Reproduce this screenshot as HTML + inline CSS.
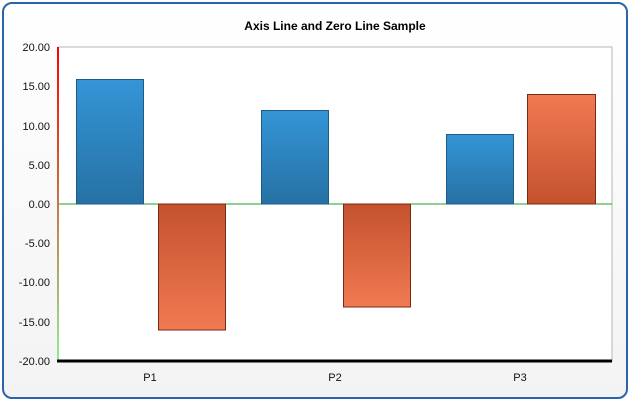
<!DOCTYPE html>
<html><head><style>body{margin:0;background:#fff}svg{display:block}</style></head><body>
<svg width="630" height="401" xmlns="http://www.w3.org/2000/svg" font-family="Liberation Sans, sans-serif">
<defs>
<linearGradient id="bg" x1="0" y1="0" x2="0" y2="1"><stop offset="0" stop-color="#ffffff"/><stop offset="1" stop-color="#f3f3f3"/></linearGradient>
<linearGradient id="blue" x1="0" y1="0" x2="0" y2="1"><stop offset="0" stop-color="#3495d6"/><stop offset="1" stop-color="#2671a4"/></linearGradient>
<linearGradient id="orU" x1="0" y1="0" x2="0" y2="1"><stop offset="0" stop-color="#f07a52"/><stop offset="1" stop-color="#c4522e"/></linearGradient>
<linearGradient id="orD" x1="0" y1="0" x2="0" y2="1"><stop offset="0" stop-color="#c4522e"/><stop offset="1" stop-color="#f07a52"/></linearGradient>
<linearGradient id="ax" x1="0" y1="0" x2="0" y2="1"><stop offset="0" stop-color="#ff0000"/><stop offset="1" stop-color="#90ee90"/></linearGradient>
</defs>
<rect x="3" y="3" width="624" height="395" rx="9" fill="url(#bg)" stroke="#2a64ad" stroke-width="2"/>
<text x="335" y="30" text-anchor="middle" font-size="12" font-weight="bold">Axis Line and Zero Line Sample</text>
<rect x="58" y="47" width="554" height="314" fill="#fff" stroke="#b5b5b5" stroke-width="1"/>
<line x1="58" y1="204" x2="612" y2="204" stroke="#22a022" stroke-width="1"/>
<g stroke-width="1">
<rect x="76.5" y="79.5" width="67" height="124.5" fill="url(#blue)" stroke="#1f5b85"/>
<rect x="158.5" y="204" width="67" height="126" fill="url(#orD)" stroke="#7a2a12"/>
<rect x="261.5" y="110.5" width="67" height="93.5" fill="url(#blue)" stroke="#1f5b85"/>
<rect x="343.5" y="204" width="67" height="103" fill="url(#orD)" stroke="#7a2a12"/>
<rect x="446.5" y="134.5" width="67" height="69.5" fill="url(#blue)" stroke="#1f5b85"/>
<rect x="527.5" y="94.5" width="68" height="109.5" fill="url(#orU)" stroke="#7a2a12"/>
</g>
<rect x="57" y="47" width="2" height="314" fill="url(#ax)"/>
<line x1="57" y1="361" x2="612" y2="361" stroke="#000" stroke-width="3"/>
<g font-size="11" text-anchor="end" fill="#111">
<text x="50" y="51">20.00</text><text x="50" y="90">15.00</text><text x="50" y="130">10.00</text>
<text x="50" y="169">5.00</text><text x="50" y="208">0.00</text><text x="50" y="247">-5.00</text>
<text x="50" y="286">-10.00</text><text x="50" y="326">-15.00</text><text x="50" y="365">-20.00</text>
</g>
<g font-size="11" text-anchor="middle" fill="#111">
<text x="150" y="381">P1</text><text x="335" y="381">P2</text><text x="520" y="381">P3</text>
</g>
</svg>
</body></html>
